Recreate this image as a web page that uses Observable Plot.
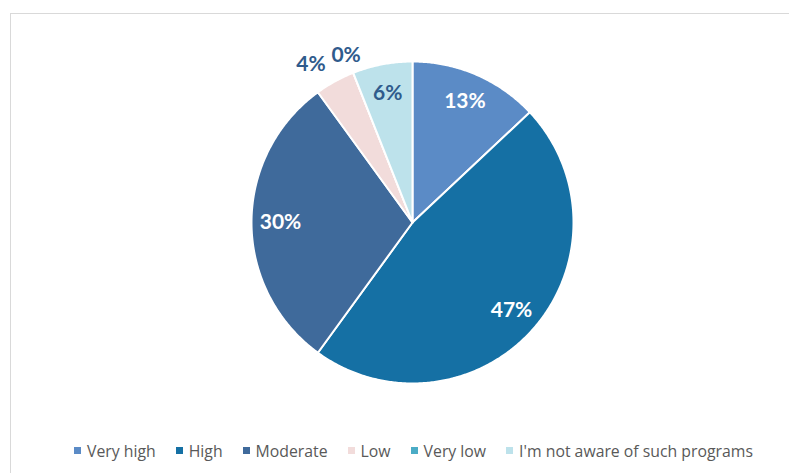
<!DOCTYPE html>
<html><head><meta charset="utf-8">
<script src="https://cdn.jsdelivr.net/npm/d3@7"></script>
<script src="https://cdn.jsdelivr.net/npm/@observablehq/plot@0.6"></script>
<style>
html,body{margin:0;padding:0;background:#fff;overflow:hidden;width:789px;height:473px;}
#frame{position:absolute;left:10px;top:13px;width:820px;height:500px;border:1px solid #d9d9d9;box-sizing:border-box;}
#chart{position:absolute;left:11px;top:14px;}
#legend{position:absolute;left:74px;top:434px;white-space:nowrap;}
.lg-swatch{margin-right:20px !important;}
.lg-swatch > svg{margin-right:6px !important;}
</style>
</head><body>
<div id="frame"></div>
<div id="chart"></div>
<div id="legend"></div>
<script>
// Data
const categories = ["Very high", "High", "Moderate", "Low", "Very low", "I'm not aware of such programs"];
const values = [13, 47, 30, 4, 0, 6];
const labels = ["13%", "47%", "30%", "4%", "0%", "6%"];

// Palette
const colors = ["#5b8bc6", "#1570a4", "#3f6a9b", "#f2dcdb", "#4bacc6", "#bde2eb"];
const darkLabel = "#2f5b8c";

const arcs = d3.pie().sort(null).value(d => d)(values);

// slice polygons sampled along the arcs
const slicePts = [];
arcs.forEach((a, i) => {
  const cat = categories[i];
  slicePts.push({cat, x: 0, y: 0});
  const n = Math.max(1, Math.ceil((a.endAngle - a.startAngle) / (Math.PI / 360)));
  for (let k = 0; k <= n; k++) {
    const t = a.startAngle + (a.endAngle - a.startAngle) * k / n;
    slicePts.push({cat, x: Math.sin(t), y: Math.cos(t)});
  }
  slicePts.push({cat, x: 0, y: 0});
});

const labelData = arcs.map((a, i) => {
  const mid = (a.startAngle + a.endAngle) / 2;
  const inside = values[i] >= 5;
  const r = inside ? 0.82 : 1.12;
  const dark = inside && d3.hsl(colors[i]).l < 0.6;
  const sx = Math.sin(mid);
  const anchor = !inside && sx < -0.45 ? "end" : "middle";
  return {label: labels[i], x: r * sx, y: r * Math.cos(mid), white: dark, anchor};
});

const textOpts = {x: "x", y: "y", text: "label", fontSize: 21, fontWeight: "bold"};

const chart = Plot.plot({
  width: 778,
  height: 400,
  marginLeft: 240,
  marginRight: 216,
  marginTop: 47,
  marginBottom: 31,
  x: {domain: [-1, 1], axis: null},
  y: {domain: [-1, 1], axis: null},
  color: {type: "ordinal", domain: categories, range: colors},
  style: {fontFamily: "Lato", background: "transparent", overflow: "visible"},
  marks: [
    Plot.line(slicePts, {x: "x", y: "y", z: "cat", fill: "cat", stroke: "white", strokeWidth: 2, strokeLinejoin: "round"}),
    Plot.text(labelData.filter(d => d.white), {...textOpts, fill: "white"}),
    Plot.text(labelData.filter(d => !d.white && d.anchor === "middle"), {...textOpts, fill: darkLabel}),
    Plot.text(labelData.filter(d => !d.white && d.anchor === "end"), {...textOpts, fill: darkLabel, textAnchor: "end"})
  ]
});
document.getElementById("chart").appendChild(chart);

const legend = Plot.legend({
  color: {type: "ordinal", domain: categories, range: colors},
  swatchSize: 7,
  className: "lg",
  style: {fontFamily: "'Open Sans'", fontSize: "15.8px", color: "#595959"}
});
document.getElementById("legend").appendChild(legend);
</script>
</body></html>
